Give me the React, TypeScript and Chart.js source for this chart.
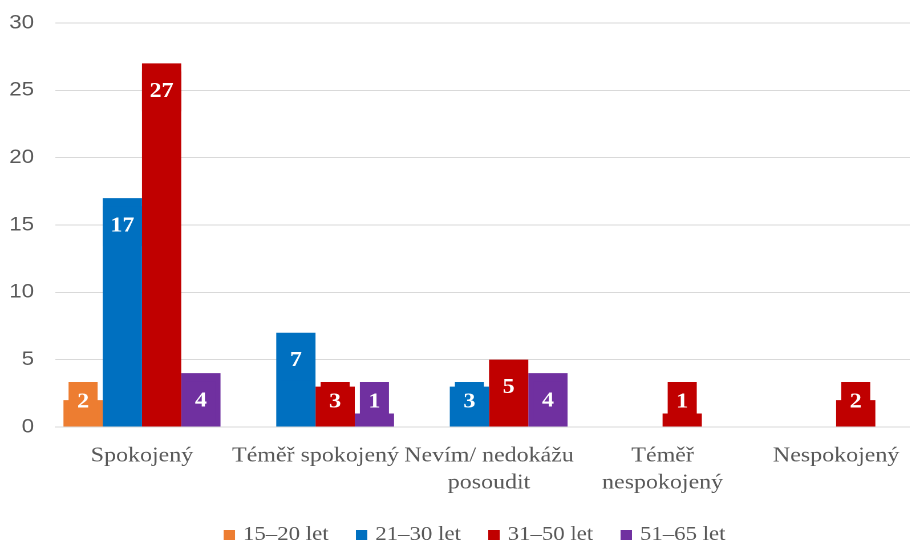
import React, { useEffect, useRef } from 'react';
import { Chart, registerables } from 'chart.js';

Chart.register(...registerables);

// ---- Data ----
const categories: (string | string[])[] = [
  'Spokojený',
  'Téměř spokojený',
  ['Nevím/ nedokážu', 'posoudit'],
  ['Téměř', 'nespokojený'],
  'Nespokojený',
];
const seriesNames = ['15–20 let', '21–30 let', '31–50 let', '51–65 let'];
const age15to20: (number | null)[] = [2, null, null, null, null];
const age21to30: (number | null)[] = [17, 7, 3, null, null];
const age31to50: (number | null)[] = [27, 3, 5, 1, 2];
const age51to65: (number | null)[] = [4, 1, 4, null, null];
const seriesColors = ['#ED7D31', '#0070C0', '#C00000', '#7030A0'];
const yMin = 0;
const yMax = 30;
const yStep = 5;

// ---- Plugins ----
const barLabels = {
  id: 'barLabels',
  afterDatasetsDraw(chart: any) {
    const ctx = chart.ctx;
    ctx.save();
    ctx.font = 'bold 21px "Liberation Serif"';
    ctx.textAlign = 'center';
    ctx.textBaseline = 'middle';
    chart.data.datasets.forEach((ds: any, i: number) => {
      const meta = chart.getDatasetMeta(i);
      meta.data.forEach((el: any, j: number) => {
        const v = ds.data[j];
        if (v == null) return;
        const { x, y, base, width } = el.getProps(['x', 'y', 'base', 'width'], true);
        const text = String(v);
        const tw = ctx.measureText(text).width;
        const cy = Math.min(y + 28, base - 24.5);
        const w = Math.min(tw + 15, width);
        ctx.fillStyle = ds.backgroundColor;
        ctx.fillRect(x - w / 2, cy - 20, w, 40);
        ctx.fillStyle = '#ffffff';
        ctx.fillText(text, x, cy);
      });
    });
    ctx.restore();
  },
};

const bottomLegend = {
  id: 'bottomLegend',
  afterDraw(chart: any) {
    const ctx = chart.ctx;
    ctx.save();
    ctx.font = '20px "Liberation Serif"';
    const box = 10;
    const gapText = 7;
    const gapItem = 24;
    const items = chart.data.datasets.map((ds: any) => ({
      label: ds.label,
      color: ds.backgroundColor,
      w: ctx.measureText(ds.label).width,
    }));
    const total =
      items.reduce((s: number, it: any) => s + box + gapText + it.w, 0) +
      gapItem * (items.length - 1);
    let x = 416 - total / 2;
    const cy = 535;
    ctx.textBaseline = 'middle';
    ctx.textAlign = 'left';
    items.forEach((it: any) => {
      ctx.fillStyle = it.color;
      ctx.fillRect(x, cy - 5, box, box);
      x += box + gapText;
      ctx.fillStyle = '#595959';
      ctx.fillText(it.label, x, cy - 0.5);
      x += it.w + gapItem;
    });
    ctx.restore();
  },
};

export default function App() {
  const canvasRef = useRef<HTMLCanvasElement | null>(null);

  useEffect(() => {
    document.body.style.margin = '0';
    const canvas = canvasRef.current;
    if (!canvas) return;
    const seriesData = [age15to20, age21to30, age31to50, age51to65];
    const chart = new Chart(canvas, {
      type: 'bar',
      data: {
        labels: categories as any,
        datasets: seriesNames.map((name, i) => ({
          label: name,
          data: seriesData[i] as any,
          backgroundColor: seriesColors[i],
          borderWidth: 0,
          categoryPercentage: 0.905,
          barPercentage: 1,
        })),
      },
      options: {
        animation: false,
        responsive: false,
        devicePixelRatio: 2,
        layout: { padding: { top: 23, right: 1, left: 0, bottom: 0 } },
        plugins: {
          legend: { display: false },
          tooltip: { enabled: false },
        },
        scales: {
          x: {
            grid: { display: false, drawTicks: false },
            border: { display: true, color: '#D9D9D9', width: 1 },
            ticks: {
              color: '#595959',
              font: { family: 'Liberation Serif', size: 21, lineHeight: 1.286 },
              padding: 15.5,
              maxRotation: 0,
              minRotation: 0,
              autoSkip: false,
            },
            afterFit: (s: any) => {
              s.height = 119;
            },
          },
          y: {
            min: yMin,
            max: yMax,
            ticks: {
              stepSize: yStep,
              color: '#595959',
              font: { family: 'Liberation Sans', size: 19.5 },
              padding: 18.6,
            },
            grid: { color: '#D9D9D9', drawTicks: false, lineWidth: 1 },
            border: { display: false },
            afterFit: (s: any) => {
              s.width = 48.4;
              s.paddingTop = 0;
              s.paddingBottom = 0;
            },
          },
        },
      } as any,
      plugins: [barLabels, bottomLegend],
    });
    return () => chart.destroy();
  }, []);

  return (
    <div
      style={{
        position: 'fixed',
        left: 0,
        top: 0,
        width: 910,
        height: 546,
        overflow: 'hidden',
        background: '#ffffff',
      }}
    >
      <canvas
        ref={canvasRef}
        width={810}
        height={546}
        style={{ width: '924px', height: '546px', display: 'block' }}
      />
    </div>
  );
}
